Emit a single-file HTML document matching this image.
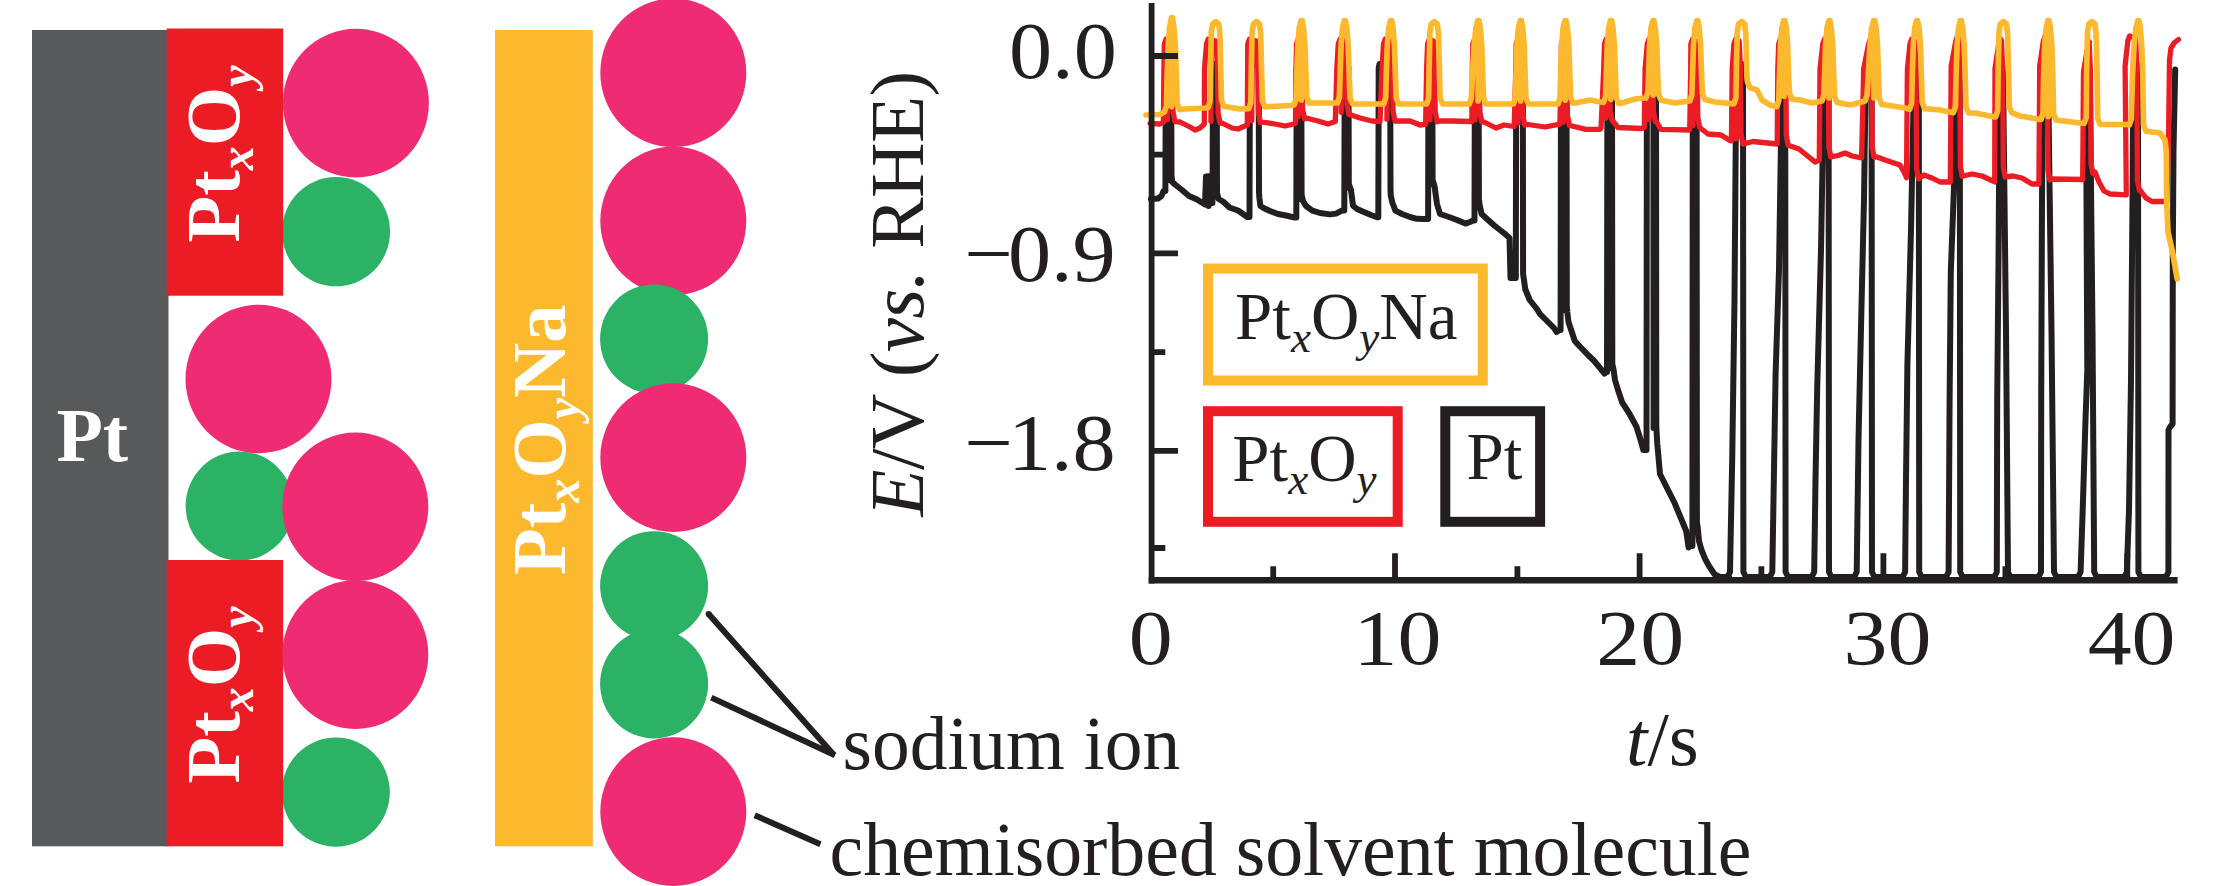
<!DOCTYPE html>
<html lang="en"><head><meta charset="utf-8"><title>Pt oxide electrode scheme</title>
<style>html,body{margin:0;padding:0;background:#fff}body{width:2213px;height:886px;overflow:hidden}svg{display:block}
text{font-family:"Liberation Serif","DejaVu Serif",serif;fill:#231f20}.w{fill:#fff;font-weight:bold}.i{font-style:italic}
.ln{fill:none;stroke-linejoin:round;stroke-linecap:round}</style></head><body>
<svg width="2213" height="886" viewBox="0 0 2213 886">
<rect width="2213" height="886" fill="#fff"/>
<g id="scheme">
<rect x="32" y="30" width="136.5" height="816.3" fill="#58595b"/>
<ellipse cx="336.0" cy="231.7" rx="54.0" ry="54.6" fill="#2bb264"/>
<ellipse cx="239.6" cy="506.0" rx="54.0" ry="54.6" fill="#2bb264"/>
<ellipse cx="335.8" cy="792.1" rx="54.0" ry="54.6" fill="#2bb264"/>
<rect x="166.7" y="28.5" width="116.5" height="267.2" fill="#ec1c24"/>
<rect x="166.7" y="560" width="116.5" height="286.3" fill="#ec1c24"/>
<ellipse cx="355.9" cy="103.1" rx="73.0" ry="74.3" fill="#ee2b73"/>
<ellipse cx="258.5" cy="379.0" rx="73.0" ry="74.3" fill="#ee2b73"/>
<ellipse cx="355.3" cy="506.8" rx="73.0" ry="74.3" fill="#ee2b73"/>
<ellipse cx="355.3" cy="654.6" rx="73.0" ry="74.3" fill="#ee2b73"/>
<rect x="495" y="30" width="97.8" height="816.3" fill="#fdb92d"/>
<ellipse cx="673.3" cy="72.8" rx="73.0" ry="74.3" fill="#ee2b73"/>
<ellipse cx="673.3" cy="220.9" rx="73.0" ry="74.3" fill="#ee2b73"/>
<ellipse cx="654.1" cy="339.0" rx="54.0" ry="54.6" fill="#2bb264"/>
<ellipse cx="673.3" cy="457.6" rx="73.0" ry="74.3" fill="#ee2b73"/>
<ellipse cx="654.1" cy="585.8" rx="54.0" ry="54.6" fill="#2bb264"/>
<ellipse cx="654.1" cy="683.8" rx="54.0" ry="54.6" fill="#2bb264"/>
<ellipse cx="673.3" cy="811.6" rx="73.0" ry="74.3" fill="#ee2b73"/>
<text class="w" x="56.4" y="461" font-size="76">Pt</text>
<text class="w" transform="translate(239.0,242.5) rotate(-90)" font-size="76.5">Pt<tspan class="i" font-size="48" dy="14">x</tspan><tspan dy="-14">O</tspan><tspan class="i" font-size="48" dy="14">y</tspan></text>
<text class="w" transform="translate(239.0,783.5) rotate(-90)" font-size="76.5">Pt<tspan class="i" font-size="48" dy="14">x</tspan><tspan dy="-14">O</tspan><tspan class="i" font-size="48" dy="14">y</tspan></text>
<text class="w" transform="translate(565.0,575.0) rotate(-90)" font-size="76.5">Pt<tspan class="i" font-size="48" dy="14">x</tspan><tspan dy="-14">O</tspan><tspan class="i" font-size="48" dy="14">y</tspan><tspan dy="-14">Na</tspan></text>
<path d="M708.6,614 L834.2,755.3 M711.3,697.6 L835,755.2" fill="none" stroke="#231f20" stroke-width="6" stroke-linecap="butt"/>
<circle cx="708.6" cy="614" r="3" fill="#231f20"/>
<path d="M754.7,815.2 L820.4,844.3" fill="none" stroke="#231f20" stroke-width="6"/>
<text x="842.5" y="768.6" font-size="75.5">sodium ion</text>
<text x="829.5" y="874.8" font-size="75.8">chemisorbed solvent molecule</text>
</g>
<g id="chart">
<text transform="translate(923.3,516.5) rotate(-90)" font-size="77" letter-spacing="-0.65"><tspan class="i">E</tspan>/V (<tspan class="i">vs.</tspan><tspan dx="3.5"> RHE)</tspan></text>
<text transform="translate(1116.8,78.3) scale(1.065,1)" font-size="81" text-anchor="end">0.0</text>
<text transform="translate(1115.7,280.5) scale(1.065,1)" font-size="81" text-anchor="end">−<tspan dx="-4.7">0.9</tspan></text>
<text transform="translate(1115.7,469.7) scale(1.065,1)" font-size="81" text-anchor="end">−<tspan dx="-4.7">1.8</tspan></text>
<text transform="translate(1150.7,663.6) scale(1.12,1)" font-size="78.5" text-anchor="middle">0</text>
<text transform="translate(1397.5,663.6) scale(1.12,1)" font-size="78.5" text-anchor="middle">10</text>
<text transform="translate(1640.3,663.6) scale(1.12,1)" font-size="78.5" text-anchor="middle">20</text>
<text transform="translate(1887.5,663.6) scale(1.12,1)" font-size="78.5" text-anchor="middle">30</text>
<text transform="translate(2131.6,663.6) scale(1.12,1)" font-size="78.5" text-anchor="middle">40</text>
<text x="1626" y="765" font-size="77"><tspan class="i">t</tspan>/s</text>
<rect x="1208" y="268.5" width="274.8" height="112" fill="none" stroke="#fdb92d" stroke-width="10"/>
<rect x="1208" y="411.2" width="189.7" height="110.6" fill="none" stroke="#ec1c24" stroke-width="10"/>
<rect x="1445.3" y="411.2" width="94.8" height="110.6" fill="none" stroke="#231f20" stroke-width="10"/>
<text x="1235.0" y="339.4" font-size="67">Pt<tspan class="i" font-size="45" dy="12.7">x</tspan><tspan dy="-12.7">O</tspan><tspan class="i" font-size="45" dy="12.7">y</tspan><tspan dy="-12.7">Na</tspan></text>
<text x="1232.3" y="481.2" font-size="67">Pt<tspan class="i" font-size="45" dy="12.7">x</tspan><tspan dy="-12.7">O</tspan><tspan class="i" font-size="45" dy="12.7">y</tspan></text>
<text x="1466.4" y="478.5" font-size="67">Pt</text>
<path class="ln" d="M1151.0,199.0 L1158.0,198.5 L1161.5,196.0 L1163.5,191.0 L1165.4,191.0 L1165.8,68.0 L1166.6,64.0 L1168.5,64.0 L1168.5,180.0 L1168.5,64.0 L1170.4,64.0 L1171.2,68.0 L1171.5,176.0 L1172.3,182.0 L1175.0,184.5 L1182.0,190.0 L1189.0,196.0 L1197.0,199.5 L1205.0,204.5 L1206.0,176.5 L1208.6,176.3 L1208.6,206.0 L1208.6,176.3 L1212.4,176.3 L1212.4,203.0 L1212.4,176.3 L1212.6,176.3 L1213.0,68.0 L1213.8,64.0 L1214.8,64.0 L1214.8,174.3 L1214.8,64.0 L1215.9,64.0 L1216.7,68.0 L1217.0,193.0 L1218.5,199.0 L1223.0,201.5 L1229.5,207.5 L1238.0,210.5 L1247.4,217.0 L1249.5,217.0 L1249.9,68.0 L1250.7,64.0 L1257.9,64.0 L1258.7,68.0 L1259.0,192.0 L1259.4,198.0 L1260.4,206.0 L1263.6,208.0 L1270.0,211.0 L1278.0,214.0 L1286.0,215.5 L1294.5,217.5 L1296.3,217.5 L1296.7,68.0 L1297.5,64.0 L1299.0,64.0 L1299.0,199.0 L1299.0,64.0 L1300.5,64.0 L1301.3,68.0 L1301.6,195.0 L1303.0,201.0 L1306.0,206.0 L1312.4,210.6 L1320.0,213.0 L1330.0,214.4 L1336.0,213.6 L1341.7,210.6 L1344.3,210.6 L1344.7,68.0 L1345.5,64.0 L1346.6,64.0 L1346.6,188.0 L1346.6,64.0 L1347.7,64.0 L1348.5,68.0 L1348.8,184.0 L1351.0,190.0 L1353.0,205.7 L1357.0,209.0 L1364.5,212.3 L1371.0,215.0 L1377.0,217.3 L1378.3,217.3 L1378.7,68.0 L1379.5,64.0 L1389.4,64.0 L1390.2,68.0 L1390.5,190.0 L1390.8,196.0 L1392.5,203.0 L1395.4,210.6 L1402.0,214.0 L1410.0,217.0 L1417.0,218.8 L1424.0,219.0 L1428.1,219.0 L1428.5,68.0 L1429.3,64.0 L1430.4,64.0 L1430.4,184.0 L1430.4,64.0 L1431.5,64.0 L1432.3,68.0 L1432.6,180.0 L1434.5,186.0 L1437.0,204.0 L1440.0,214.0 L1449.0,217.0 L1457.0,220.0 L1465.4,223.6 L1470.0,222.0 L1473.0,220.5 L1474.5,220.5 L1474.9,68.0 L1475.7,64.0 L1476.8,64.0 L1476.8,203.0 L1476.8,64.0 L1477.8,64.0 L1478.6,68.0 L1478.9,199.0 L1479.6,205.0 L1481.6,214.0 L1487.0,219.0 L1494.3,225.5 L1500.0,230.0 L1505.6,234.4 L1509.5,238.0 L1510.5,278.0 L1513.5,278.0 L1515.8,278.0 L1516.2,68.0 L1517.0,64.0 L1522.0,64.0 L1522.8,68.0 L1523.1,274.0 L1524.0,280.0 L1525.2,289.0 L1529.7,300.0 L1536.9,309.0 L1540.0,314.0 L1547.0,321.0 L1554.0,328.0 L1556.5,332.0 L1559.5,330.0 L1560.6,330.0 L1561.0,68.0 L1561.8,64.0 L1563.8,64.0 L1563.8,310.0 L1563.8,64.0 L1565.7,64.0 L1566.5,68.0 L1566.8,306.0 L1567.3,312.0 L1568.5,322.0 L1574.8,341.0 L1580.3,347.0 L1588.0,355.0 L1593.8,360.5 L1600.0,368.0 L1604.5,373.5 L1606.5,372.0 L1607.0,372.0 L1607.4,68.0 L1608.2,64.0 L1609.7,64.0 L1609.7,368.0 L1609.7,64.0 L1611.2,64.0 L1612.0,68.0 L1612.3,364.0 L1613.6,370.0 L1615.0,380.0 L1618.0,390.0 L1622.2,402.5 L1629.0,413.0 L1636.4,426.5 L1640.0,438.0 L1643.3,450.0 L1646.5,450.0 L1646.9,68.0 L1647.7,64.0 L1653.4,64.0 L1653.6,428.0 L1653.8,64.0 L1655.2,64.0 L1656.0,68.0 L1656.3,426.0 L1656.6,432.0 L1657.3,444.0 L1660.0,474.0 L1667.0,488.0 L1674.4,502.5 L1680.0,516.0 L1686.2,531.0 L1688.6,547.5 L1690.5,546.0 L1692.4,546.0 L1692.8,68.0 L1693.6,64.0 L1694.7,64.0 L1694.7,526.0 L1694.7,64.0 L1695.8,64.0 L1696.6,68.0 L1696.9,522.0 L1697.8,528.0 L1699.0,541.0 L1701.5,550.0 L1705.2,559.0 L1709.0,566.0 L1714.7,574.5 L1720.0,577.0 L1729.0,577.0 L1727.5,577.0 L1730.0,572.0 L1732.2,460.0 L1734.5,300.0 L1736.3,70.0 L1737.3,64.0 L1742.0,64.0 L1743.0,72.0 L1743.4,572.0 L1745.9,577.0 L1769.8,577.0 L1772.3,572.0 L1774.0,470.0 L1775.6,374.0 L1779.0,270.0 L1781.0,140.0 L1781.5,70.0 L1782.5,64.0 L1784.2,64.0 L1785.2,72.0 L1785.6,572.0 L1788.1,577.0 L1811.7,577.0 L1814.2,572.0 L1815.5,480.0 L1817.2,388.0 L1821.0,250.0 L1824.2,70.0 L1825.2,64.0 L1827.6,64.0 L1828.6,72.0 L1829.0,572.0 L1831.5,577.0 L1854.2,577.0 L1856.7,572.0 L1858.5,440.0 L1861.2,319.0 L1864.0,200.0 L1865.8,70.0 L1866.8,64.0 L1870.6,64.0 L1871.6,72.0 L1872.0,572.0 L1874.5,577.0 L1902.6,577.0 L1905.1,572.0 L1906.0,480.0 L1907.4,365.0 L1911.0,230.0 L1914.2,70.0 L1915.2,64.0 L1917.8,64.0 L1918.8,72.0 L1919.2,572.0 L1921.7,577.0 L1946.1,577.0 L1948.6,572.0 L1949.6,400.0 L1950.8,272.0 L1955.0,160.0 L1955.8,70.0 L1956.8,64.0 L1958.8,64.0 L1959.8,72.0 L1960.2,572.0 L1962.7,577.0 L1994.3,577.0 L1996.8,572.0 L1997.2,400.0 L1998.6,250.0 L1999.8,70.0 L2000.8,64.0 L2002.0,64.0 L2003.0,72.0 L2006.0,330.0 L2008.0,572.0 L2010.5,577.0 L2038.5,577.0 L2041.0,572.0 L2041.2,400.0 L2042.0,200.0 L2043.0,70.0 L2044.0,64.0 L2047.0,64.0 L2048.0,72.0 L2051.5,330.0 L2054.0,572.0 L2056.5,577.0 L2078.1,577.0 L2080.6,572.0 L2082.7,510.0 L2085.5,420.0 L2087.3,370.0 L2086.5,200.0 L2085.8,70.0 L2086.8,64.0 L2088.8,64.0 L2089.8,72.0 L2092.5,330.0 L2094.2,572.0 L2096.7,577.0 L2124.3,577.0 L2126.8,572.0 L2129.0,510.0 L2131.0,380.0 L2132.5,200.0 L2133.4,70.0 L2134.4,64.0 L2137.0,64.0 L2138.0,72.0 L2138.4,572.0 L2140.9,577.0 L2166.0,577.0 L2168.4,572.0 L2168.5,430.0 L2170.0,427.0 L2172.6,424.0 L2172.8,250.0 L2173.5,150.0 L2175.2,69.5" stroke="#231f20" stroke-width="6.0"/>
<path class="ln" d="M1150.0,123.5 L1160.0,124.0 L1163.4,122.3 L1163.9,69.0 L1164.4,44.0 L1166.2,39.0 L1168.1,40.0 L1167.3,119.6 L1168.1,40.0 L1171.2,41.0 L1172.4,69.0 L1173.0,111.6 L1174.9,121.6 L1180.0,122.0 L1190.0,127.0 L1195.0,130.0 L1200.0,128.0 L1204.3,124.0 L1204.5,69.0 L1206.5,44.0 L1208.3,39.0 L1211.7,40.0 L1210.9,121.1 L1211.7,40.0 L1216.3,41.0 L1217.5,69.0 L1218.1,113.1 L1220.0,123.1 L1222.0,123.0 L1232.0,128.0 L1238.0,129.0 L1246.0,125.5 L1247.3,125.2 L1247.6,69.0 L1247.8,44.0 L1249.6,39.0 L1252.5,40.0 L1251.7,120.4 L1252.5,40.0 L1256.6,41.0 L1257.8,69.0 L1258.4,112.4 L1260.3,122.4 L1262.0,122.0 L1275.0,124.0 L1285.0,126.0 L1294.0,124.0 L1295.5,123.2 L1296.0,69.0 L1296.5,44.0 L1298.3,39.0 L1299.0,40.0 L1298.2,116.8 L1299.0,40.0 L1300.8,41.0 L1302.0,69.0 L1302.6,108.8 L1304.5,118.8 L1306.0,118.0 L1318.0,121.0 L1328.0,124.0 L1335.3,121.6 L1336.8,69.0 L1338.3,44.0 L1340.1,39.0 L1342.0,40.0 L1341.2,112.3 L1342.0,40.0 L1345.1,41.0 L1346.3,69.0 L1346.9,104.3 L1348.8,114.3 L1360.0,118.0 L1372.0,121.0 L1380.0,121.6 L1382.0,69.0 L1383.5,44.0 L1385.3,39.0 L1387.7,40.0 L1386.9,119.2 L1387.7,40.0 L1391.3,41.0 L1392.5,69.0 L1393.1,111.2 L1395.0,121.2 L1397.0,121.0 L1410.0,121.0 L1420.0,125.0 L1425.6,124.3 L1426.6,69.0 L1427.6,44.0 L1429.4,39.0 L1430.8,40.0 L1430.0,119.7 L1430.8,40.0 L1433.4,41.0 L1434.6,69.0 L1435.2,111.7 L1437.1,121.7 L1440.0,121.0 L1452.0,121.0 L1470.0,121.5 L1471.8,121.6 L1472.3,69.0 L1472.8,44.0 L1474.6,39.0 L1475.8,40.0 L1475.0,119.6 L1475.8,40.0 L1478.1,41.0 L1479.3,69.0 L1479.9,111.9 L1481.8,121.9 L1484.0,122.0 L1496.0,128.0 L1504.0,125.0 L1514.2,126.5 L1515.8,69.0 L1516.2,44.0 L1518.0,39.0 L1518.9,40.0 L1518.1,123.0 L1518.9,40.0 L1521.0,41.0 L1522.2,69.0 L1522.8,115.0 L1524.7,125.0 L1528.0,124.5 L1545.0,127.0 L1559.9,124.2 L1561.2,69.0 L1561.4,44.0 L1563.2,39.0 L1563.9,40.0 L1563.1,122.2 L1563.9,40.0 L1565.7,41.0 L1566.9,69.0 L1567.5,115.5 L1569.4,125.5 L1572.0,126.0 L1586.0,129.3 L1600.0,129.3 L1601.0,128.5 L1603.7,69.0 L1604.5,44.0 L1606.3,39.0 L1606.7,40.0 L1605.9,118.0 L1606.7,40.0 L1608.3,41.0 L1609.5,69.0 L1610.1,110.0 L1612.0,120.0 L1618.0,127.5 L1642.0,128.5 L1644.3,127.3 L1645.1,69.0 L1647.3,44.0 L1649.1,39.0 L1649.8,40.0 L1649.0,119.4 L1649.8,40.0 L1651.6,41.0 L1652.8,69.0 L1653.4,111.4 L1655.3,121.4 L1656.0,121.0 L1661.0,129.3 L1689.0,130.0 L1689.7,129.8 L1690.7,69.0 L1690.9,44.0 L1692.7,39.0 L1693.8,40.0 L1693.0,125.5 L1693.8,40.0 L1696.0,41.0 L1697.2,69.0 L1697.8,117.5 L1699.7,127.5 L1708.0,134.0 L1721.0,135.0 L1730.0,140.5 L1731.4,140.9 L1732.2,69.0 L1733.9,44.0 L1735.7,39.0 L1736.9,40.0 L1736.1,138.9 L1736.9,40.0 L1739.2,41.0 L1740.4,69.0 L1741.0,134.0 L1742.9,144.0 L1743.0,144.0 L1753.0,141.5 L1777.2,144.0 L1777.8,69.0 L1778.7,44.0 L1780.5,39.0 L1784.5,41.0 L1785.7,69.0 L1786.3,135.4 L1788.2,145.4 L1789.0,145.5 L1799.0,149.0 L1815.0,162.0 L1819.3,160.3 L1820.0,69.0 L1822.8,44.0 L1824.6,39.0 L1827.1,41.0 L1828.3,69.0 L1828.9,146.9 L1830.8,156.9 L1838.0,155.5 L1845.0,153.0 L1852.0,156.0 L1861.6,157.9 L1863.7,69.0 L1868.6,44.0 L1870.4,39.0 L1870.4,41.0 L1871.6,69.0 L1872.2,147.2 L1874.1,157.2 L1877.0,157.0 L1885.0,160.0 L1900.0,165.0 L1904.0,172.0 L1906.5,177.8 L1907.4,69.0 L1910.0,44.0 L1911.8,39.0 L1914.8,41.0 L1916.0,69.0 L1916.6,168.7 L1918.5,178.7 L1924.0,175.0 L1932.0,178.0 L1940.0,182.0 L1950.3,182.0 L1951.2,66.0 L1955.8,41.0 L1957.6,36.0 L1958.6,38.0 L1959.8,66.0 L1960.4,166.4 L1962.3,176.4 L1963.0,176.0 L1972.0,174.0 L1982.0,176.0 L1994.7,181.9 L1995.0,69.0 L1998.7,44.0 L2000.5,39.0 L2001.5,41.0 L2002.7,69.0 L2003.3,167.0 L2005.2,177.0 L2013.0,176.0 L2022.0,178.0 L2032.0,184.0 L2038.9,184.0 L2039.7,66.0 L2043.4,41.0 L2045.2,36.0 L2046.2,38.0 L2047.4,66.0 L2048.0,170.0 L2049.9,180.0 L2052.0,179.0 L2082.7,179.5 L2083.5,72.0 L2087.7,47.0 L2089.5,42.0 L2089.2,44.0 L2090.4,72.0 L2091.0,163.6 L2092.9,173.6 L2095.0,172.0 L2099.0,182.0 L2104.0,191.0 L2110.0,194.0 L2126.3,194.8 L2125.1,66.0 L2127.8,41.0 L2129.6,36.0 L2135.6,38.0 L2136.8,66.0 L2137.4,180.3 L2139.3,190.3 L2140.0,190.0 L2146.0,198.0 L2152.0,201.5 L2166.0,201.5 L2166.8,201.5 L2168.5,140.0 L2169.5,60.0 L2171.0,48.0 L2174.5,42.5 L2178.5,39.5" stroke="#ec1c24" stroke-width="5.3"/>
<path class="ln" d="M1146.0,115.0 L1160.0,114.5 L1164.5,111.9 L1166.5,105.9 L1167.2,75.0 L1168.2,45.0 L1169.6,28.0 L1171.4,17.8 L1172.5,17.8 L1172.0,30.0 L1171.7,106.6 L1172.0,30.0 L1172.5,17.8 L1173.9,28.0 L1175.3,45.0 L1176.3,75.0 L1177.1,103.6 L1179.6,109.6 L1185.0,109.0 L1205.0,108.0 L1208.0,107.6 L1210.0,101.6 L1210.4,75.0 L1211.3,32.0 L1212.7,24.0 L1215.7,21.6 L1218.7,24.0 L1219.9,34.0 L1220.9,75.0 L1221.5,100.5 L1224.0,106.5 L1225.0,106.5 L1240.0,109.0 L1248.8,108.7 L1250.8,102.7 L1251.2,75.0 L1252.1,32.0 L1253.5,24.0 L1256.5,21.6 L1259.5,24.0 L1260.7,34.0 L1261.7,75.0 L1262.3,100.9 L1264.8,106.9 L1290.0,105.5 L1294.1,105.0 L1296.1,99.0 L1296.8,75.0 L1297.8,45.0 L1299.2,28.0 L1301.0,20.6 L1302.1,20.6 L1301.6,30.0 L1301.3,100.1 L1301.6,30.0 L1302.1,20.6 L1303.5,28.0 L1304.9,45.0 L1305.9,75.0 L1306.7,97.1 L1309.2,103.1 L1310.0,103.0 L1337.4,103.0 L1339.4,97.0 L1340.1,75.0 L1341.1,45.0 L1342.5,28.0 L1344.3,20.6 L1345.4,20.6 L1346.8,28.0 L1348.2,45.0 L1349.2,75.0 L1350.0,98.0 L1352.5,104.0 L1383.6,104.0 L1385.6,98.0 L1386.3,75.0 L1387.3,45.0 L1388.7,28.0 L1390.5,20.6 L1391.6,20.6 L1393.0,28.0 L1394.4,45.0 L1395.4,75.0 L1396.2,98.0 L1398.7,104.0 L1426.6,104.0 L1428.6,98.0 L1429.0,75.0 L1429.9,32.0 L1431.3,24.0 L1434.3,21.6 L1437.3,24.0 L1438.5,34.0 L1439.5,75.0 L1440.1,98.0 L1442.6,104.0 L1469.3,104.0 L1471.3,98.0 L1472.5,75.0 L1474.1,45.0 L1475.9,28.0 L1477.8,20.6 L1478.9,20.6 L1478.4,30.0 L1478.1,101.0 L1478.4,30.0 L1478.9,20.6 L1480.3,28.0 L1481.7,45.0 L1482.7,75.0 L1483.5,98.0 L1486.0,104.0 L1500.0,104.0 L1513.3,104.0 L1515.3,98.0 L1516.0,75.0 L1517.0,45.0 L1518.4,28.0 L1520.2,20.6 L1521.3,20.6 L1520.8,30.0 L1520.5,101.0 L1520.8,30.0 L1521.3,20.6 L1522.7,28.0 L1524.1,45.0 L1525.1,75.0 L1525.9,98.0 L1528.4,104.0 L1558.0,104.0 L1560.0,98.0 L1560.7,75.0 L1561.7,45.0 L1563.1,28.0 L1564.9,20.6 L1566.0,20.6 L1565.5,30.0 L1565.2,100.1 L1565.5,30.0 L1566.0,20.6 L1567.4,28.0 L1568.8,45.0 L1569.8,75.0 L1570.6,97.1 L1573.1,103.1 L1575.0,103.0 L1590.0,100.0 L1600.0,102.0 L1603.6,102.3 L1605.6,96.3 L1606.3,75.0 L1607.3,45.0 L1608.7,28.0 L1610.5,20.6 L1611.6,20.6 L1611.1,30.0 L1610.8,99.3 L1611.1,30.0 L1611.6,20.6 L1613.0,28.0 L1614.4,45.0 L1615.4,75.0 L1616.2,97.4 L1618.7,103.4 L1620.0,103.5 L1635.0,99.0 L1645.0,98.0 L1645.9,98.1 L1647.9,92.1 L1648.6,75.0 L1649.6,45.0 L1651.0,28.0 L1652.8,20.6 L1653.9,20.6 L1653.4,30.0 L1653.1,95.1 L1653.4,30.0 L1653.9,20.6 L1655.3,28.0 L1656.7,45.0 L1657.7,75.0 L1658.5,94.2 L1661.0,100.2 L1675.0,103.0 L1689.8,101.0 L1691.8,95.0 L1692.5,75.0 L1693.5,45.0 L1694.9,28.0 L1696.7,20.6 L1697.8,20.6 L1699.2,28.0 L1700.6,45.0 L1701.6,75.0 L1702.4,93.6 L1704.9,99.6 L1715.0,102.0 L1733.9,103.9 L1735.9,97.9 L1736.3,75.0 L1737.2,32.0 L1738.6,24.0 L1741.6,21.6 L1744.6,24.0 L1745.8,34.0 L1746.8,75.0 L1747.4,81.6 L1749.9,87.6 L1757.0,90.0 L1762.0,100.0 L1770.0,105.0 L1776.8,106.7 L1778.8,100.7 L1779.5,75.0 L1780.5,45.0 L1781.9,28.0 L1783.7,20.6 L1784.8,20.6 L1784.3,30.0 L1784.0,96.2 L1784.3,30.0 L1784.8,20.6 L1786.2,28.0 L1787.6,45.0 L1788.6,75.0 L1789.4,93.2 L1791.9,99.2 L1800.0,100.0 L1812.0,103.0 L1821.9,101.0 L1823.9,95.0 L1824.6,75.0 L1825.6,45.0 L1827.0,28.0 L1828.8,20.6 L1829.9,20.6 L1829.4,30.0 L1829.1,98.0 L1829.4,30.0 L1829.9,20.6 L1831.3,28.0 L1832.7,45.0 L1833.7,75.0 L1834.5,96.4 L1837.0,102.4 L1850.0,105.0 L1858.0,103.0 L1865.1,100.9 L1867.1,94.9 L1868.3,75.0 L1869.9,45.0 L1871.7,28.0 L1873.6,20.6 L1874.7,20.6 L1874.2,30.0 L1873.9,97.9 L1874.2,30.0 L1874.7,20.6 L1876.1,28.0 L1877.5,45.0 L1878.5,75.0 L1879.3,98.3 L1881.8,104.3 L1905.0,108.0 L1909.6,109.3 L1911.6,103.3 L1912.3,75.0 L1913.3,45.0 L1914.7,28.0 L1916.5,20.6 L1917.6,20.6 L1919.0,28.0 L1920.4,45.0 L1921.4,75.0 L1922.2,102.7 L1924.7,108.7 L1940.0,110.0 L1953.4,112.7 L1955.4,106.7 L1956.1,75.0 L1957.1,45.0 L1958.5,28.0 L1960.3,20.6 L1961.4,20.6 L1962.8,28.0 L1964.2,45.0 L1965.2,75.0 L1966.0,107.0 L1968.5,113.0 L1975.0,113.0 L1995.0,117.0 L1995.7,116.8 L1997.7,110.8 L1998.1,75.0 L1999.0,32.0 L2000.4,24.0 L2003.4,21.6 L2006.4,24.0 L2007.6,34.0 L2008.6,75.0 L2009.2,106.7 L2011.7,112.7 L2020.0,116.0 L2040.0,119.5 L2041.0,119.5 L2043.0,113.5 L2043.7,75.0 L2044.7,45.0 L2046.1,28.0 L2047.9,20.6 L2049.0,20.6 L2048.5,30.0 L2048.2,116.5 L2048.5,30.0 L2049.0,20.6 L2050.4,28.0 L2051.8,45.0 L2052.8,75.0 L2053.6,114.1 L2056.1,120.1 L2080.0,123.0 L2084.2,123.3 L2086.2,117.3 L2086.6,75.0 L2087.5,32.0 L2088.9,24.0 L2091.9,21.6 L2094.9,24.0 L2096.1,34.0 L2097.1,75.0 L2097.7,118.5 L2100.2,124.5 L2128.0,124.5 L2129.3,125.0 L2131.3,119.0 L2132.5,75.0 L2134.1,45.0 L2135.9,28.0 L2137.8,20.6 L2138.9,20.6 L2140.3,28.0 L2141.7,45.0 L2142.7,75.0 L2143.5,125.1 L2146.0,131.1 L2160.0,133.0 L2165.0,140.0 L2166.3,152.0 L2166.6,200.0 L2168.0,232.0 L2172.5,252.0 L2177.2,279.0" stroke="#fdb92d" stroke-width="5.7"/>
<path d="M1151.5,56.0 H1178 M1151.5,253.4 H1178 M1151.5,450.8 H1178 M1151.5,154.7 H1165.3 M1151.5,352.1 H1165.3 M1151.5,548.0 H1165.3 M1395.0,580 V553.2 M1639.6,580 V553.2 M1883.4,580 V553.2 M2127.3,580 V553.2 M1273.2,580 V566.3 M1517.4,580 V566.3 M1761.4,580 V566.3 M2005.4,580 V566.3" fill="none" stroke="#231f20" stroke-width="5.8"/>
<path d="M1151.6,3 V583.4" fill="none" stroke="#231f20" stroke-width="5.8"/>
<path d="M1148.7,580.2 H2177.6" fill="none" stroke="#231f20" stroke-width="6.4"/>
</g>
</svg></body></html>
